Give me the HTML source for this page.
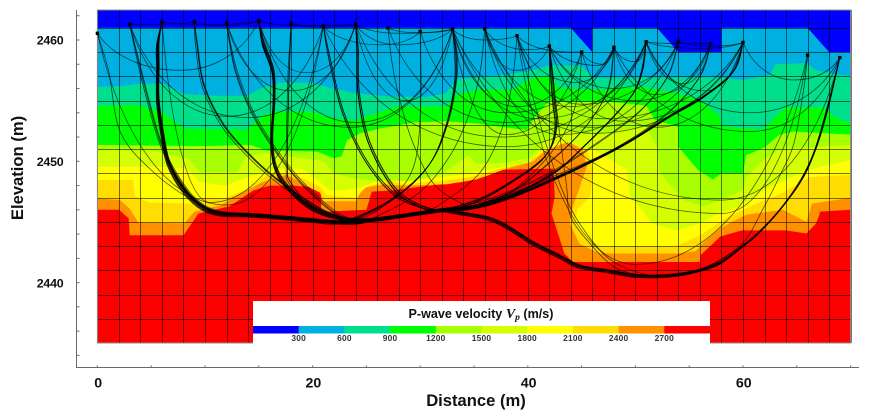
<!DOCTYPE html>
<html lang="en">
<head>
<meta charset="utf-8">
<title>P-wave velocity tomogram</title>
<style>
html,body{margin:0;padding:0;background:#fff;width:869px;height:420px;overflow:hidden}
svg{display:block}
text{font-family:"Liberation Sans",sans-serif;font-weight:bold;fill:#111}
</style>
</head>
<body>
<svg id="chart" xmlns="http://www.w3.org/2000/svg" width="869" height="420" viewBox="0 0 869 420">
  <g id="bands"></g>
  <g id="grid"></g>
  <g id="rays"></g>
  <g id="shots"></g>
  <g id="axes"></g>
  <g id="legend">
    <rect id="legendBg" fill="#fff"></rect>
    <text x="481" y="318" text-anchor="middle" font-size="12.6">P-wave velocity <tspan font-style="italic" font-size="14" style="font-family:'Liberation Serif',serif">V</tspan><tspan dy="2" font-size="9.5" font-style="italic" style="font-family:'Liberation Serif',serif">p</tspan><tspan dy="-2"> (m/s)</tspan></text>
  </g>
  <text transform="translate(23,168) rotate(-90)" text-anchor="middle" font-size="16.6">Elevation (m)</text>
  <text x="476" y="406" text-anchor="middle" font-size="16.6">Distance (m)</text>
</svg>
<script>
// ---- axis tick values ----
const xTickValues = [0,5,10,15,20,25,30,35,40,45,50,55,60,65,70];
const xTickLabels = [0,20,40,60];
const yTickValues = [2434,2436,2438,2440,2442,2444,2446,2448,2450,2452,2454,2456,2458,2460,2462];
const yTickLabels = [2440,2450,2460];
const gridDistances = [0,2,4,6,8,10,12,14,16,18,20,22,24,26,28,30,32,34,36,38,40,42,44,46,48,50,52,54,56,58,60,62,64,66,68,70];
const gridElevations = [2437,2439,2441,2443,2445,2447,2449,2451,2453,2455,2457,2459,2461];

// ---- velocity legend ----
const bandColors = ["#0000ff","#00b0e0","#00e08c","#00ff00","#a8ff00","#d4ff00","#ffff00","#ffdd00","#ff9000","#ff0000"];
const legendTicks = [300,600,900,1200,1500,1800,2100,2400,2700];

// ---- contour boundaries (distance m, elevation m); each band fills from boundary up to the surface ----
const contour2700 = [[0,2446],[2,2446],[2.9,2445.3],[3,2443.9],[8,2443.9],[9.4,2445.7],[12.3,2446.3],[14.5,2447.6],[16,2448],[18.2,2448],[20.8,2447.8],[20.8,2446],[21.4,2445.85],[25,2446],[25.5,2447.5],[27.5,2447.6],[30,2447.9],[34,2448.3],[35.9,2448.7],[37.7,2449.3],[42.4,2449.4],[42.5,2447.1],[42.2,2445.7],[43.4,2442.4],[44.2,2441.7],[56,2441.7],[56.1,2442.3],[57.9,2443.8],[59.9,2444.3],[64,2444.3],[65.9,2444.05],[66.8,2444.9],[67.2,2445.85],[70,2446]];
const contour2400 = [[0,2446.95],[2.1,2446.8],[3,2446.1],[3.8,2444.95],[8.1,2444.9],[9,2445.85],[11.5,2446.4],[13,2447.2],[15.4,2448.3],[17.6,2448.9],[19.4,2448],[20.7,2447.4],[21,2446.7],[21.9,2446.7],[24,2446.7],[24.7,2447.8],[26.6,2448.1],[28.4,2448],[32.5,2448.1],[35.2,2448.5],[37.7,2449.3],[40.5,2450],[42,2451.2],[43.9,2451.6],[45.1,2450.9],[45.5,2449.6],[44.2,2446.3],[43.9,2444.9],[44.8,2443.2],[46.7,2442.4],[53.8,2442.4],[55.6,2442.6],[56.2,2443.2],[57.9,2444.5],[60.3,2445.6],[63.7,2446],[65.9,2445],[66.4,2446.5],[70,2447]];
const contour2100 = [[0,2448.46],[3.3,2448.46],[3.5,2447.1],[4.8,2446.6],[9,2446.5],[9.5,2447],[11.7,2446.9],[13.9,2447.7],[15.7,2448.8],[17.6,2449.1],[19.1,2448.6],[20.7,2447.9],[21.3,2447.2],[24,2447],[25,2447.9],[27.2,2448.45],[28.4,2448.1],[32.1,2448.4],[35.2,2448.8],[37.4,2449.4],[39.9,2449.9],[41.7,2450.9],[43.9,2451.7],[45.5,2451],[46.1,2449.3],[45.8,2447.1],[44.6,2446],[44.4,2444.9],[45.7,2443.4],[47,2443],[53.8,2443],[56,2443.9],[58.2,2445.2],[60.7,2446.3],[63.7,2447.4],[66.2,2448.7],[70,2448.9]];
const contour1800 = [[0,2449.55],[3.3,2449.55],[6.1,2449.55],[8.3,2449.4],[9.5,2448.3],[11.9,2448],[13.2,2448.45],[14.8,2448.9],[16.7,2449.4],[19,2449.4],[20.4,2448.5],[21.6,2447.6],[23,2447.6],[24.7,2447.9],[26.6,2448.6],[28.1,2448.3],[32.1,2448.7],[34.6,2449],[36.8,2449.4],[40.2,2449.9],[41.1,2450.7],[43,2451.7],[46.1,2451],[49.2,2449.3],[49.5,2447.1],[50.4,2446.26],[51.5,2444.9],[53.8,2444.3],[56,2444.9],[57.5,2445.6],[59.7,2446.3],[61.9,2447.6],[66,2449.3],[70,2450.1]];
const contour1500 = [[0,2450.9],[5,2450.9],[8.5,2450.2],[9.5,2449.1],[13,2449.1],[13.7,2450.3],[15.5,2450.7],[21,2450],[22,2449],[23.8,2448.6],[25.6,2448.4],[29.3,2448.4],[32.1,2449],[34.5,2450.5],[35.2,2449.8],[38,2449.9],[40.2,2450.3],[41.1,2451.3],[43,2452.6],[46,2452.2],[49,2452.6],[51,2452.85],[52,2451.2],[52.3,2449],[54.5,2446.8],[56.3,2446.3],[57.9,2446.8],[60,2447.6],[60.3,2448.7],[61.9,2450.1],[63.4,2451],[70,2451.35]];
const contour1200 = [[0,2451.35],[9.8,2451.25],[14.2,2451.35],[15.7,2450.9],[20.4,2450.8],[22,2450.25],[22.7,2450.4],[23.2,2451.75],[24.4,2452.3],[26.3,2452.7],[29.4,2453.2],[32.4,2453.3],[35.5,2453.1],[38.7,2452.7],[39.9,2452.6],[40.8,2453.8],[42,2455],[43.9,2454.9],[47.6,2454.9],[51,2454.6],[51.8,2453.4],[54,2452.85],[54,2451.2],[55.8,2449.3],[57.2,2448.5],[58,2449],[60,2449],[60.3,2450.5],[62,2451.15],[63.4,2452.2],[64.7,2452.45],[70,2452.2]];
const contour900 = [[0,2454.56],[3.7,2454.65],[6,2454.1],[8,2452.7],[13.9,2452.6],[15.4,2453.8],[16.7,2454.1],[20,2454.1],[22,2453.5],[24,2453.4],[27.8,2454.5],[32.4,2454.5],[33.4,2455.5],[35.5,2455.9],[38.7,2455.9],[40.2,2456.8],[42,2457],[43,2456],[47,2455.9],[50.4,2456.15],[53.8,2455.6],[55.7,2455.2],[57.9,2453.7],[57.9,2452.9],[61.9,2452.6],[62.7,2453.4],[64,2454.45],[67.6,2454.4],[68.4,2453.7],[70,2453.1]];
const contour600 = [[0,2456.15],[2.1,2456.2],[4,2456.4],[6.1,2456.4],[8,2455.55],[11.1,2455.4],[13.9,2455.4],[15.4,2456.1],[17,2456.5],[19.8,2456.5],[21.9,2456],[24.1,2455.6],[27.8,2455.3],[30.5,2455.3],[32.4,2455.6],[33.4,2456.8],[35.5,2456.9],[37.7,2457.1],[39.9,2457.4],[42,2457.9],[45,2457.9],[46,2456.9],[57.8,2456.9],[60,2456.7],[62.5,2457.1],[63,2458],[65.9,2458.1],[66.8,2457.5],[70,2457]];
const contour300 = [[0,2461],[44,2461],[46,2459],[46,2461],[52,2461],[54,2459],[58,2459],[58,2461],[66,2461],[68,2459],[70,2459]];

// ---- shots ----
const shotDistance = [0,3,6,9,12,15,18,21,24,27,30,33,36,39,42,45,48,51,54,57,60,66,69];
const shotElevation = [2460.55,2461.3,2461.5,2461.5,2461.4,2461.6,2461.4,2461.15,2461.3,2461,2460.7,2460.9,2460.9,2460.35,2459.5,2459,2459.4,2459.85,2459.9,2459.7,2459.8,2458.75,2458.55];

// ---- refractor trunk ----
const trunkPath = [[11,2445.75],[14,2445.55],[17,2445.35],[20,2445.1],[22,2444.95],[24,2444.9],[26,2445.2],[28,2445.45],[30,2445.7],[32,2445.95],[34,2446.15]];

// ---- descending ray branches from a shot toward the trunk ----
const branch0 = [[1,2457.3],[2.1,2452.3],[5.2,2449],[9.2,2446.5],[12,2445.6]];
const branch3 = [[4,2457.3],[5.5,2452.3],[6.8,2449.6],[8.9,2446.9],[11,2445.8]];
const branch6 = [[5.6,2459.7],[5.6,2457.8],[5.6,2455],[6,2452.3],[6.6,2449.8],[8,2447.6],[9.85,2446.1],[11.7,2445.6]];
const branch9 = [[9.2,2459.7],[9.85,2456.2],[11.7,2452.9],[14.5,2450.1],[17,2448.2],[20.7,2446],[23.2,2445.2]];
const branch12 = [[12.9,2457.6],[14.5,2454],[17,2450.5],[19.8,2447.6],[23,2445.4]];
const branch15 = [[15.4,2459.7],[16.3,2457.4],[16.4,2455],[16.2,2451.8],[16.5,2449.6],[17.6,2447.9],[20.1,2446],[23.2,2445.2]];
const branch18 = [[17.8,2457.8],[17.7,2455],[17.6,2449.6],[17.9,2448.2],[20,2446.2],[23.5,2445.2]];
const branch21 = [[21.5,2458.6],[22.8,2454],[25,2449.9],[27.8,2447.1],[30.9,2446]];
const branch24 = [[24.2,2459.2],[24.3,2455.6],[25.3,2451.5],[27.8,2447.6],[30.9,2446]];
const branch27 = [[27.3,2458],[28,2455],[29.2,2451.5],[31.2,2448],[34,2446.3]];
const branch30 = [[30,2455],[29.5,2450],[27.8,2447.3],[25,2445.4]];
const branch33 = [[33.3,2458.9],[33.3,2456.7],[32.5,2453.1],[30.9,2449.8],[27.8,2447.1],[24,2445.3]];
const branch36 = [[35.6,2457.5],[34.6,2454],[32.8,2450.5],[30,2447.5],[26,2445.5]];
const branch39 = [[38.5,2456.5],[37.5,2452.5],[35.5,2449],[32,2446.5]];
const branch42 = [[42.2,2457],[42.4,2454.8],[42.6,2452.9],[42,2450.9],[40.2,2449.3],[36.2,2447.1],[33.5,2446.2]];
const branch45 = [[44.8,2456],[43.8,2453],[41.5,2450],[38,2447.3],[34,2446.1]];
const branch48 = [[47.5,2456],[45.5,2453],[42.5,2450.3],[38.5,2447.5],[34,2446.1]];
const branch51 = [[50.6,2457.5],[49.8,2455.6],[48,2453.7],[45.2,2451.2],[42.4,2449],[38,2447],[34,2446.1]];
const branch54 = [[53,2457],[50.5,2454.2],[46.5,2451.5],[42,2449],[37,2447],[33.5,2446.1]];
const branch57 = [[56,2457],[53,2454],[48,2451],[42,2448.6],[36.5,2446.7],[33.5,2446.1]];
const branch60 = [[59.1,2457.4],[56.3,2455.3],[53.2,2453.7],[48.6,2451.2],[42.4,2448.5],[37.7,2446.8],[34.6,2446.1]];
const branch66 = [[65.6,2456],[64.7,2451.5],[63.5,2449],[61.8,2446],[59.8,2443.1],[56,2441],[52.3,2440.55],[49.8,2440.6],[45,2441.3],[43,2442.1],[40.5,2443.2],[38,2444.6],[36.2,2445.3],[33.7,2445.7]];
const branch69 = [[67.8,2454.2],[66.8,2451.2],[65.6,2448.7],[63.9,2446.5],[61.6,2444.2],[60,2443],[57.9,2441.6],[56,2441],[54.5,2440.7],[52.3,2440.5],[49.8,2440.55],[47.6,2440.9],[44.8,2441.3],[43,2442.1],[40.5,2443.2],[38,2444.6],[36.2,2445.3],[33.7,2445.7]];
const branchByShot = {0:branch0,3:branch3,6:branch6,9:branch9,12:branch12,15:branch15,18:branch18,21:branch21,24:branch24,27:branch27,30:branch30,33:branch33,36:branch36,39:branch39,42:branch42,45:branch45,48:branch48,51:branch51,54:branch54,57:branch57,60:branch60,66:branch66,69:branch69};

// ---- refracted rays: left shot, right shot, bundle offset (m) ----
const deepRays = [[6,60,.05],[6,60,-.1],[6,69,.15],[6,33,-.2],[6,42,.25],[6,51,0],[0,60,.1],[3,69,-.05],
[9,42,-.15],[15,60,0],[15,69,.1],[15,60,-.15],[15,51,.2],[15,42,-.05],[12,69,.05],
[18,60,.1],[21,60,-.05],[21,69,.15],[24,60,.05],[24,69,-.15],[24,51,.1],[24,42,-.1],[27,60,.15],
[6,30,.1],[9,33,.05],[15,33,-.1],[3,33,.2],[6,36,-.05],[9,39,.1],[12,45,-.1],[15,48,.05],[6,48,-.15],[9,54,.15],[15,54,-.1],[6,57,.05],[12,57,-.2],[3,66,.1],[6,69,.2],[15,69,-.12],[6,60,.2],[21,69,0],[18,42,.1],[18,51,-.1],[21,51,.15],[6,51,.15],[6,33,.05],[24,60,-.12],[15,42,.15]];

// ---- diving arcs: left shot, turning distance, turning elevation, right shot ----
const arcRays = [[3,6,2461.3,9],[6,10,2461.25,15],[9,12,2461.2,15],[15,19,2461.2,24],[18,21,2461.05,24],[24,28,2460.55,33],[27,30,2460.6,33],[21,26.3,2459.6,30],[24,28,2459.6,33],
[36,38.9,2457.5,42],[33,36,2460,39],[36,40,2459.2,42],[39,43.8,2459,45],[42,46.5,2457.9,48],[45,47,2458,48],[48,50,2458.2,51],[51,54,2459.7,57],[54,57,2459.5,60],[51,56,2459.3,60],[51,54.5,2456.4,57],[51,56.5,2455.8,60],
[51,60.6,2454,69],[48,60.6,2452.45,69],[60,64.8,2456.7,69],
[0,7.7,2457.5,15],[3,12,2453.7,21],[3,14,2453.6,24],[12,18,2455.8,24],[15,19.4,2457.3,24],[15,24,2453.2,33],[12,23.5,2452.8,33],[24,28.7,2455,33],
[0,12,2446.4,21],[6,10.5,2446.6,21],
[33,39,2454.5,45],[30,38,2454,48],[27,38,2453.2,48],[33,38,2452.2,45],[24,37.5,2452,51],[21,38,2451.2,51],[33,41,2453.5,51],[36,43,2452.2,54],[39,45,2454.7,54],[39,44.5,2456.5,48],[36,44,2454.5,51],[33,46,2452.8,57],[36,46,2452.3,60],[39,47,2453.5,60],[42,49,2453.3,60],[45,52,2452.8,60],[42,48,2456,54],[42,50,2455,57],[48,52,2455.5,57],
[36,58,2446.8,69],[33,58,2445.7,66],[39,50,2441.5,66]];

// ---- thin rays diving through the low-velocity basin to the deep refractor ----
const basinRay42 = [[42,2459.5],[43,2452],[43.6,2448],[44,2445.4],[46,2443],[48,2441.3],[50,2440.7],[52.3,2440.5],[56,2441],[60,2443],[63.9,2446.5],[66.8,2451.2],[69,2458.55]];
const basinRay39 = [[39,2460.35],[41.5,2452],[43.5,2447],[45.5,2444],[47.5,2442],[50,2440.9],[52.3,2440.6],[56,2441.1],[60,2443.1],[63.9,2446.6],[66.8,2451.2],[69,2458.55]];
const basinRays = [basinRay42, basinRay39];

// ---- axis functions ----
const plotLeft = 97.4, pxPerMetreX = 10.76, refY = 40, refElevation = 2460, pxPerMetreY = 12.13;
function sx(d){ return plotLeft + d * pxPerMetreX; }
function sy(e){ return refY + (refElevation - e) * pxPerMetreY; }
const distMax = 70;
const elevTop = refElevation + (refY - 10) / pxPerMetreY;
const elevBottom = refElevation - (343 - refY) / pxPerMetreY;
const NS = "http://www.w3.org/2000/svg";
function mk(tag, parent, attrs){
  const el = document.createElementNS(NS, tag);
  for (const k in attrs) el.setAttribute(k, attrs[k]);
  parent.appendChild(el);
  return el;
}
const fmt = v => v.toFixed(1);

// background + contour bands
const bandsG = document.getElementById("bands");
const redBase = mk("rect", bandsG, {x:sx(0), y:sy(elevTop), width:sx(distMax)-sx(0), height:sy(elevBottom)-sy(elevTop), fill:bandColors[9]});


const contourStack = [contour2700,contour2400,contour2100,contour1800,contour1500,contour1200,contour900,contour600,contour300];
contourStack.forEach((pts, i) => {
  const ring = pts.concat([[distMax,elevTop],[0,elevTop]]);
  const poly = mk("polygon", bandsG, {points:ring.map(p => fmt(sx(p[0]))+","+fmt(sy(p[1]))).join(" "), fill:bandColors[8-i]});
  
  
});

// grid
const gridG = document.getElementById("grid");
gridDistances.forEach(d => {
  const l = mk("line", gridG, {x1:Math.round(sx(d))+.5, x2:Math.round(sx(d))+.5, y1:sy(elevTop), y2:sy(elevBottom), stroke:"rgba(0,0,0,.55)", "stroke-width":1});
  
  
});
gridElevations.forEach(e => {
  const l = mk("line", gridG, {y1:Math.round(sy(e))+.5, y2:Math.round(sy(e))+.5, x1:sx(0), x2:sx(distMax), stroke:"rgba(0,0,0,.55)", "stroke-width":1});
  
  
});
const frame = mk("rect", gridG, {x:sx(0), y:sy(elevTop), width:sx(distMax)-sx(0), height:sy(elevBottom)-sy(elevTop), fill:"none", stroke:"#8c8c8c", "stroke-width":1});



// rays
function shotPoint(d){ return [d, shotElevation[shotDistance.indexOf(d)]]; }
function smoothPath(pts){
  const p = pts.map(q => [sx(q[0]), sy(q[1])]);
  let s = "M"+fmt(p[0][0])+" "+fmt(p[0][1]);
  for (let i=0;i<p.length-1;i++){
    const a = p[Math.max(i-1,0)], b = p[i], c = p[i+1], d = p[Math.min(i+2,p.length-1)];
    s += "C"+fmt(b[0]+(c[0]-a[0])/6)+" "+fmt(b[1]+(c[1]-a[1])/6)+" "+fmt(c[0]-(d[0]-b[0])/6)+" "+fmt(c[1]-(d[1]-b[1])/6)+" "+fmt(c[0])+" "+fmt(c[1]);
  }
  return s;
}
const raysG = document.getElementById("rays");
deepRays.forEach(r => {
  const left = branchByShot[r[0]], right = branchByShot[r[1]], off = r[2]*.7;
  const endL = left[left.length-1][0], endR = right[right.length-1][0];
  const mid = trunkPath.filter(q => q[0] > endL+1 && q[0] < endR-1);
  const inner = left.concat(mid, right.slice().reverse()).map(q => [q[0]+off*.8, q[1]+off]);
  const pts = [shotPoint(r[0])].concat(inner, [shotPoint(r[1])]);
  const path = mk("path", raysG, {d:smoothPath(pts), fill:"none", stroke:"rgba(0,0,0,.72)", "stroke-width":.75});
  
  
});
basinRays.forEach(pts => {
  const path = mk("path", raysG, {d:smoothPath(pts), fill:"none", stroke:"rgba(0,0,0,.7)", "stroke-width":.75});
  
  
});
arcRays.forEach(r => {
  const a = shotPoint(r[0]), z = shotPoint(r[3]);
  const ax = sx(a[0]), ay = sy(a[1]), bx = sx(r[1]), by = sy(r[2]), zx = sx(z[0]), zy = sy(z[1]);
  const d = "M"+fmt(ax)+" "+fmt(ay)+
    "C"+fmt(ax+(bx-ax)*.18)+" "+fmt(ay+(by-ay)*.6)+" "+fmt(bx-(bx-ax)*.45)+" "+fmt(by)+" "+fmt(bx)+" "+fmt(by)+
    "C"+fmt(bx+(zx-bx)*.45)+" "+fmt(by)+" "+fmt(zx-(zx-bx)*.18)+" "+fmt(zy+(by-zy)*.6)+" "+fmt(zx)+" "+fmt(zy);
  const path = mk("path", raysG, {d:d, fill:"none", stroke:"rgba(0,0,0,.65)", "stroke-width":.75});
  
  
});

// shot markers
const shotsG = document.getElementById("shots");
shotDistance.forEach((d,i) => {
  const m = mk("rect", shotsG, {x:sx(d)-1.7, y:sy(shotElevation[i])-1.7, width:3.4, height:3.4, fill:"#000"});
  
  
});

// axes
const axesG = document.getElementById("axes");
const axisColor = "#6a6a6a";
const yAxisLine = mk("line", axesG, {x1:76.5, x2:76.5, y1:10, y2:368, stroke:axisColor, "stroke-width":1});


const xAxisLine = mk("line", axesG, {x1:76, x2:859, y1:367.5, y2:367.5, stroke:axisColor, "stroke-width":1});


xTickValues.forEach(d => {
  const t = mk("line", axesG, {x1:sx(d), x2:sx(d), y1:365.5, y2:367.5, stroke:axisColor, "stroke-width":1});
  
  
});
yTickValues.forEach(e => {
  const t = mk("line", axesG, {x1:76.5, x2:79.5, y1:sy(e), y2:sy(e), stroke:axisColor, "stroke-width":1});
  
  
});
xTickLabels.forEach(d => {
  const t = mk("text", axesG, {x:sx(d)+.8, y:387.5, "text-anchor":"middle", "font-size":14.2});
  t.textContent = d;
  
  
});
yTickLabels.forEach(e => {
  const t = mk("text", axesG, {x:63.5, y:sy(e)+4.7, "text-anchor":"end", "font-size":12.4, "letter-spacing":"-.2"});
  t.textContent = e;
  
  
});

// legend
const legendLeft = 253, legendRight = 710, legendBarTop = 326, legendBarHeight = 7.5;
const legendG = document.getElementById("legend");
const bg = document.getElementById("legendBg");
bg.setAttribute("x", legendLeft);
bg.setAttribute("y", 301);
bg.setAttribute("width", legendRight-legendLeft);
bg.setAttribute("height", 43);
const swatchW = (legendRight-legendLeft)/bandColors.length;
bandColors.forEach((c,i) => {
  const s = mk("rect", legendG, {x:legendLeft+i*swatchW, y:legendBarTop, width:swatchW+.3, height:legendBarHeight, fill:c});
  
  
});
legendTicks.forEach((v,i) => {
  const t = mk("text", legendG, {x:legendLeft+(i+1)*swatchW, y:341, "text-anchor":"middle", "font-size":8.4, "letter-spacing":".2", style:"fill:#333"});
  t.textContent = v;
  
  
});
</script>
</body>
</html>
